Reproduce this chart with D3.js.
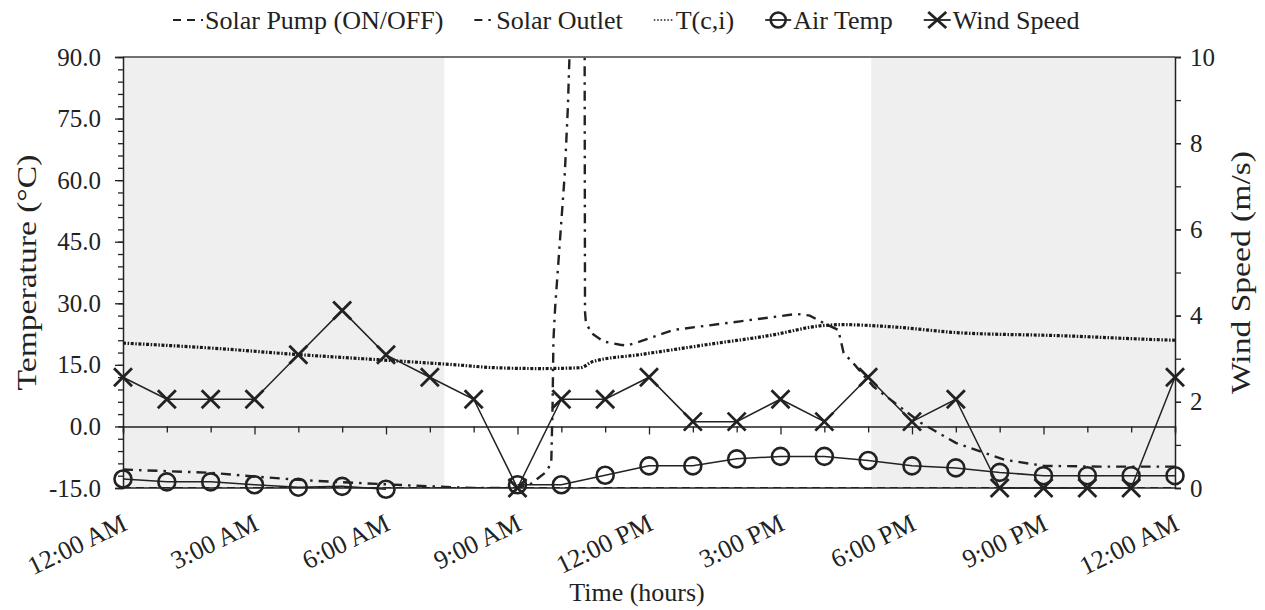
<!DOCTYPE html>
<html>
<head>
<meta charset="utf-8">
<script src="https://cdn.jsdelivr.net/npm/d3@7"></script>
<style>
  body { margin: 0; background: #fff; }
  svg { display: block; font-family: "Liberation Serif", "Times New Roman", serif; }
</style>
</head>
<body>
<svg id="chart" width="1265" height="610"></svg>
<script>
// Hourly readings (0 = 12:00 AM, 24 = next 12:00 AM)
const hours = d3.range(0, 25);
const windSpeed = [2.57, 2.06, 2.06, 2.06, 3.09, 4.12, 3.09, 2.57, 2.06, 0, 2.06, 2.06, 2.57,
                   1.54, 1.54, 2.06, 1.54, 2.57, 1.54, 2.06, 0, 0, 0, 0, 2.57];
const airTemp = [-12.8, -13.5, -13.5, -14.2, -14.8, -14.6, -15.3, null, null, -14.2, -14.2, -11.9, -9.6,
                 -9.6, -7.9, -7.3, -7.3, -8.3, -9.6, -10.1, -11.2, -12.0, -12.0, -12.0, -12.0];

// Solar outlet temperature (logged more often)
const outletHours = [0, 1, 2, 3, 4, 5, 6, 7, 8, 9, 9.3, 9.63, 9.77, 9.8, 9.82, 9.86, 9.97, 10.08, 10.15, 10.2,
                     10.53, 10.54, 10.56, 10.69, 10.96, 11.34, 11.49, 11.8, 12.55, 14.08, 15.37, 15.67, 15.98,
                     16.32, 16.44, 16.66, 17.12, 18.2, 19.0, 20.1, 21.0, 22.3, 24];
const outletTemp = [-10.5, -10.9, -11.3, -12.2, -13.0, -13.6, -14.1, -14.6, -15.0, -15.0, -14.0, -11.3, -9.0, 5.0,
                    21.1, 29.2, 45.5, 61.8, 78.0, 95.0, 105.0, 28.0, 25.3, 22.7, 20.7, 19.9, 19.7, 20.7, 23.5,
                    25.6, 27.4, 27.0, 25.2, 23.5, 17.9, 15.4, 9.7, 0.9, -4.0, -8.1, -9.6, -9.8, -9.8];

// Collector inlet temperature T(c,i)
const tciHours = [0, 2, 4, 5.9, 7.6, 8.5, 9.5, 10.43, 10.72, 11.8, 13.3, 14.83, 15.9, 16.4, 17.5, 19.1, 21.4, 23.7, 24];
const tciTemp = [20.3, 19.1, 17.5, 16.2, 15.0, 14.3, 14.1, 14.3, 15.8, 17.5, 19.9, 22.3, 24.5, 24.8, 24.3, 22.8, 22.1, 21.1, 21.0];

// Solar pump state (0 = OFF, drawn at the bottom of the axis)
const pumpHours = [0, 24];
const pumpState = [0, 0];

// Night-time shading
const nightBands = [[0, 7.33], [17.07, 24]];

const tempTicks = [-15, 0, 15, 30, 45, 60, 75, 90];
const windTicks = [0, 2, 4, 6, 8, 10];
const timeTicks = [0, 3, 6, 9, 12, 15, 18, 21, 24];
const timeLabels = ["12:00 AM", "3:00 AM", "6:00 AM", "9:00 AM", "12:00 PM", "3:00 PM", "6:00 PM", "9:00 PM", "12:00 AM"];

const plotLeft = 123, plotRight = 1175, plotTop = 57, plotBottom = 488;
const ink = "#222";

const svg = d3.select("#chart");

const x = d3.scaleLinear().domain([0, 24]).range([plotLeft, plotRight]);
const yT = d3.scaleLinear().domain([-15, 90]).range([plotBottom, plotTop]);
const yW = d3.scaleLinear().domain([0, 10]).range([plotBottom, plotTop]);

svg.append("clipPath").attr("id", "plotClip")
  .append("rect").attr("x", plotLeft).attr("y", plotTop)
  .attr("width", plotRight - plotLeft).attr("height", plotBottom - plotTop);

// shaded night bands
svg.selectAll("rect.band")
  .data(nightBands)
  .enter().append("rect")
  .attr("class", "band")
  .attr("x", d => x(d[0]))
  .attr("width", d => x(d[1]) - x(d[0]))
  .attr("y", plotTop)
  .attr("height", plotBottom - plotTop)
  .attr("fill", "#efefef");

// plot border (top + bottom)
svg.append("line").attr("x1", plotLeft).attr("x2", plotRight).attr("y1", plotTop).attr("y2", plotTop)
  .attr("stroke", "#444").attr("stroke-width", 1.5);
svg.append("line").attr("x1", plotLeft).attr("x2", plotRight).attr("y1", plotBottom).attr("y2", plotBottom)
  .attr("stroke", ink).attr("stroke-width", 1.5);

// left axis
svg.append("g")
  .attr("transform", `translate(${plotLeft},0)`)
  .call(d3.axisLeft(yT).tickValues(d3.range(-15, 91, 3)).tickSize(5).tickFormat(""))
  .call(g => g.select(".domain").remove());
svg.append("g")
  .attr("transform", `translate(${plotLeft},0)`)
  .call(d3.axisLeft(yT).tickValues(tempTicks).tickSize(8).tickPadding(14).tickFormat(d => d.toFixed(1)))
  .call(g => g.selectAll("text").attr("font-size", 25).attr("font-family", "Liberation Serif").attr("fill", ink));

// right axis
svg.append("g")
  .attr("transform", `translate(${plotRight},0)`)
  .call(d3.axisRight(yW).tickValues(d3.range(0, 10.1, 1)).tickSize(6).tickFormat(""))
  .call(g => g.select(".domain").remove());
svg.append("g")
  .attr("transform", `translate(${plotRight},0)`)
  .call(d3.axisRight(yW).tickValues(windTicks).tickSize(6).tickPadding(9).tickFormat(d3.format("d")))
  .call(g => g.selectAll("text").attr("font-size", 25).attr("font-family", "Liberation Serif").attr("fill", ink));

svg.selectAll(".tick line").attr("stroke", ink).attr("stroke-width", 1.3);
svg.selectAll(".domain").attr("stroke", ink).attr("stroke-width", 1.5);

// time axis at 0 °C with hourly ticks
svg.append("g")
  .attr("transform", `translate(0,${yT(0)})`)
  .call(d3.axisBottom(x).tickValues(hours).tickSizeOuter(0).tickSize(6).tickFormat(""))
  .call(g => g.selectAll(".tick line").attr("stroke", ink).attr("stroke-width", 1.3)
    .attr("y2", d => d % 3 === 0 ? 8 : 6))
  .call(g => g.select(".domain").attr("stroke", ink).attr("stroke-width", 1.5));

// time labels under the plot
svg.append("g")
  .attr("transform", `translate(0,${plotBottom})`)
  .call(d3.axisBottom(x).tickValues(timeTicks).tickSize(0).tickFormat((d, i) => timeLabels[i]))
  .call(g => g.select(".domain").remove())
  .call(g => g.selectAll("text")
    .attr("font-size", 26)
    .attr("font-family", "Liberation Serif")
    .attr("fill", ink)
    .attr("text-anchor", "end")
    .attr("dy", 0)
    .attr("y", 0)
    .attr("transform", "translate(5,41) rotate(-26)"));

// axis titles
svg.append("text")
  .attr("transform", `translate(36,${(plotTop + plotBottom) / 2}) scale(1,1.2) rotate(-90)`)
  .attr("text-anchor", "middle")
  .attr("font-size", 28)
  .attr("fill", ink)
  .text("Temperature (°C)");
svg.append("text")
  .attr("transform", `translate(1250,${(plotTop + plotBottom) / 2}) scale(1,1.2) rotate(-90)`)
  .attr("text-anchor", "middle")
  .attr("font-size", 28)
  .attr("fill", ink)
  .text("Wind Speed (m/s)");
svg.append("text")
  .attr("x", 637)
  .attr("y", 601)
  .attr("text-anchor", "middle")
  .attr("font-size", 26)
  .attr("fill", ink)
  .text("Time (hours)");

const plot = svg.append("g").attr("clip-path", "url(#plotClip)");

// solar pump (OFF sits on the bottom line)
plot.append("path")
  .datum(pumpHours.map((h, i) => [h, pumpState[i]]))
  .attr("fill", "none")
  .attr("stroke", ink)
  .attr("stroke-width", 2)
  .attr("stroke-dasharray", "8,5")
  .attr("d", d3.line().x(d => x(d[0])).y(d => yT(-15 + d[1] * 105)));

// T(c,i)
plot.append("path")
  .datum(tciHours.map((h, i) => [h, tciTemp[i]]))
  .attr("fill", "none")
  .attr("stroke", "#1a1a1a")
  .attr("stroke-width", 3.2)
  .attr("stroke-dasharray", "3,1.6,1.5,1.6")
  .attr("d", d3.line().curve(d3.curveMonotoneX).x(d => x(d[0])).y(d => yT(d[1])));

// solar outlet
plot.append("path")
  .datum(outletHours.map((h, i) => [h, outletTemp[i]]))
  .attr("fill", "none")
  .attr("stroke", ink)
  .attr("stroke-width", 2.4)
  .attr("stroke-dasharray", "10,6,2.5,6")
  .attr("d", d3.line().x(d => x(d[0])).y(d => yT(d[1])));

// air temperature
const airData = hours.map((h, i) => [h, airTemp[i]]);
svg.append("path")
  .datum(airData)
  .attr("fill", "none")
  .attr("stroke", ink)
  .attr("stroke-width", 1.5)
  .attr("d", d3.line().defined(d => d[1] !== null).x(d => x(d[0])).y(d => yT(d[1])));
svg.selectAll("circle.air")
  .data(airData.filter(d => d[1] !== null))
  .enter().append("circle")
  .attr("class", "air")
  .attr("cx", d => x(d[0]))
  .attr("cy", d => yT(d[1]))
  .attr("r", 8.5)
  .attr("fill", "none")
  .attr("stroke", ink)
  .attr("stroke-width", 2.6);

// wind speed
const windData = hours.map((h, i) => [h, windSpeed[i]]);
svg.append("path")
  .datum(windData)
  .attr("fill", "none")
  .attr("stroke", ink)
  .attr("stroke-width", 1.5)
  .attr("d", d3.line().x(d => x(d[0])).y(d => yW(d[1])));
svg.selectAll("path.wind")
  .data(windData)
  .enter().append("path")
  .attr("class", "wind")
  .attr("transform", d => `translate(${x(d[0])},${yW(d[1])})`)
  .attr("d", "M-9,-9L9,9M-9,9L9,-9")
  .attr("stroke", ink)
  .attr("stroke-width", 2.8);

// legend
const legendItems = [
  { name: "Solar Pump (ON/OFF)", kind: "pump", sw: 30 },
  { name: "Solar Outlet", kind: "outlet", sw: 20 },
  { name: "T(c,i)", kind: "tci", sw: 20 },
  { name: "Air Temp", kind: "air", sw: 26 },
  { name: "Wind Speed", kind: "wind", sw: 27 }
];
const legend = svg.append("g").attr("transform", "translate(0,20)");
let lx = 173;
legendItems.forEach(item => {
  const g = legend.append("g").attr("transform", `translate(${lx},0)`);
  const sw = item.sw;
  if (item.kind === "pump") {
    g.append("line").attr("x1", 0).attr("x2", sw).attr("stroke", ink).attr("stroke-width", 2.2).attr("stroke-dasharray", "8,6");
  } else if (item.kind === "outlet") {
    g.append("line").attr("x1", 0).attr("x2", sw).attr("stroke", ink).attr("stroke-width", 2.2).attr("stroke-dasharray", "8,6,2.5,6");
  } else if (item.kind === "tci") {
    g.append("line").attr("x1", 0).attr("x2", sw).attr("stroke", ink).attr("stroke-width", 1.6).attr("stroke-dasharray", "1.6,1.8");
  } else if (item.kind === "air") {
    g.append("line").attr("x1", 0).attr("x2", sw).attr("stroke", ink).attr("stroke-width", 1.8);
    g.append("circle").attr("cx", sw / 2).attr("cy", 0).attr("r", 7.5).attr("fill", "none").attr("stroke", ink).attr("stroke-width", 2.6);
  } else {
    g.append("line").attr("x1", 0).attr("x2", sw).attr("stroke", ink).attr("stroke-width", 1.8);
    g.append("path").attr("transform", `translate(${sw / 2},0)`).attr("d", "M-9,-8L9,8M-9,8L9,-8").attr("stroke", ink).attr("stroke-width", 2.8);
  }
  const t = g.append("text")
    .attr("x", sw + 2)
    .attr("y", 9)
    .attr("font-size", 26)
    .attr("fill", ink)
    .text(item.name);
  lx += sw + 2 + t.node().getComputedTextLength() + 31;
});
</script>
</body>
</html>
